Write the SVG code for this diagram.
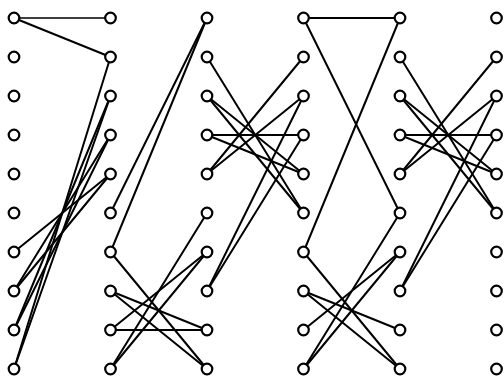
<svg xmlns="http://www.w3.org/2000/svg" width="504" height="381" viewBox="0 0 504 381">
<style>
.e{stroke:#000;stroke-width:2;fill:none;stroke-linecap:round}
.n circle{fill:#fff;stroke:#000;stroke-width:2.2}
</style>
<rect width="504" height="381" fill="#fff"/>
<g id="connectors" class="e">
<line x1="14" y1="18" x2="110.5" y2="18" stroke-width="1.5"/>
<line x1="14" y1="18" x2="110.5" y2="57"/>
<line x1="110.5" y1="57" x2="14" y2="369"/>
<line x1="110.5" y1="96" x2="14" y2="330"/>
<line x1="110.5" y1="96" x2="14" y2="369"/>
<line x1="110.5" y1="135" x2="14" y2="291"/>
<line x1="110.5" y1="135" x2="14" y2="330"/>
<line x1="110.5" y1="174" x2="14" y2="252"/>
<line x1="110.5" y1="174" x2="14" y2="291"/>
<line x1="207" y1="18" x2="110.5" y2="213"/>
<line x1="207" y1="18" x2="110.5" y2="252"/>
<line x1="110.5" y1="252" x2="207" y2="369"/>
<line x1="110.5" y1="291" x2="207" y2="330"/>
<line x1="110.5" y1="291" x2="207" y2="369"/>
<line x1="110.5" y1="330" x2="207" y2="330"/>
<line x1="110.5" y1="330" x2="207" y2="252"/>
<line x1="110.5" y1="369" x2="207" y2="252"/>
<line x1="110.5" y1="369" x2="207" y2="213"/>
<line x1="207" y1="57" x2="303.5" y2="213"/>
<line x1="207" y1="96" x2="303.5" y2="174"/>
<line x1="207" y1="96" x2="303.5" y2="213"/>
<line x1="207" y1="135" x2="303.5" y2="135"/>
<line x1="207" y1="135" x2="303.5" y2="174"/>
<line x1="207" y1="174" x2="303.5" y2="57"/>
<line x1="207" y1="174" x2="303.5" y2="96"/>
<line x1="207" y1="291" x2="303.5" y2="96"/>
<line x1="207" y1="291" x2="303.5" y2="135"/>
<line x1="303.5" y1="18" x2="400" y2="18"/>
<line x1="303.5" y1="18" x2="400" y2="213"/>
<line x1="400" y1="18" x2="303.5" y2="252"/>
<line x1="303.5" y1="252" x2="400" y2="369"/>
<line x1="303.5" y1="291" x2="400" y2="330"/>
<line x1="303.5" y1="291" x2="400" y2="369"/>
<line x1="303.5" y1="330" x2="400" y2="252"/>
<line x1="303.5" y1="369" x2="400" y2="252"/>
<line x1="303.5" y1="369" x2="400" y2="213"/>
<line x1="400" y1="57" x2="496.5" y2="213"/>
<line x1="400" y1="96" x2="496.5" y2="174"/>
<line x1="400" y1="96" x2="496.5" y2="213"/>
<line x1="400" y1="135" x2="496.5" y2="135"/>
<line x1="400" y1="135" x2="496.5" y2="174"/>
<line x1="400" y1="174" x2="496.5" y2="57"/>
<line x1="400" y1="174" x2="496.5" y2="96"/>
<line x1="400" y1="291" x2="496.5" y2="96"/>
<line x1="400" y1="291" x2="496.5" y2="135"/>
</g>
<g class="n">
<g id="n0_0"><circle cx="14" cy="18" r="5.3"/></g>
<g id="n0_1"><circle cx="14" cy="57" r="5.3"/></g>
<g id="n0_2"><circle cx="14" cy="96" r="5.3"/></g>
<g id="n0_3"><circle cx="14" cy="135" r="5.3"/></g>
<g id="n0_4"><circle cx="14" cy="174" r="5.3"/></g>
<g id="n0_5"><circle cx="14" cy="213" r="5.3"/></g>
<g id="n0_6"><circle cx="14" cy="252" r="5.3"/></g>
<g id="n0_7"><circle cx="14" cy="291" r="5.3"/></g>
<g id="n0_8"><circle cx="14" cy="330" r="5.3"/></g>
<g id="n0_9"><circle cx="14" cy="369" r="5.3"/></g>
<g id="n1_0"><circle cx="110.5" cy="18" r="5.3"/></g>
<g id="n1_1"><circle cx="110.5" cy="57" r="5.3"/></g>
<g id="n1_2"><circle cx="110.5" cy="96" r="5.3"/></g>
<g id="n1_3"><circle cx="110.5" cy="135" r="5.3"/></g>
<g id="n1_4"><circle cx="110.5" cy="174" r="5.3"/></g>
<g id="n1_5"><circle cx="110.5" cy="213" r="5.3"/></g>
<g id="n1_6"><circle cx="110.5" cy="252" r="5.3"/></g>
<g id="n1_7"><circle cx="110.5" cy="291" r="5.3"/></g>
<g id="n1_8"><circle cx="110.5" cy="330" r="5.3"/></g>
<g id="n1_9"><circle cx="110.5" cy="369" r="5.3"/></g>
<g id="n2_0"><circle cx="207" cy="18" r="5.3"/></g>
<g id="n2_1"><circle cx="207" cy="57" r="5.3"/></g>
<g id="n2_2"><circle cx="207" cy="96" r="5.3"/></g>
<g id="n2_3"><circle cx="207" cy="135" r="5.3"/></g>
<g id="n2_4"><circle cx="207" cy="174" r="5.3"/></g>
<g id="n2_5"><circle cx="207" cy="213" r="5.3"/></g>
<g id="n2_6"><circle cx="207" cy="252" r="5.3"/></g>
<g id="n2_7"><circle cx="207" cy="291" r="5.3"/></g>
<g id="n2_8"><circle cx="207" cy="330" r="5.3"/></g>
<g id="n2_9"><circle cx="207" cy="369" r="5.3"/></g>
<g id="n3_0"><circle cx="303.5" cy="18" r="5.3"/></g>
<g id="n3_1"><circle cx="303.5" cy="57" r="5.3"/></g>
<g id="n3_2"><circle cx="303.5" cy="96" r="5.3"/></g>
<g id="n3_3"><circle cx="303.5" cy="135" r="5.3"/></g>
<g id="n3_4"><circle cx="303.5" cy="174" r="5.3"/></g>
<g id="n3_5"><circle cx="303.5" cy="213" r="5.3"/></g>
<g id="n3_6"><circle cx="303.5" cy="252" r="5.3"/></g>
<g id="n3_7"><circle cx="303.5" cy="291" r="5.3"/></g>
<g id="n3_8"><circle cx="303.5" cy="330" r="5.3"/></g>
<g id="n3_9"><circle cx="303.5" cy="369" r="5.3"/></g>
<g id="n4_0"><circle cx="400" cy="18" r="5.3"/></g>
<g id="n4_1"><circle cx="400" cy="57" r="5.3"/></g>
<g id="n4_2"><circle cx="400" cy="96" r="5.3"/></g>
<g id="n4_3"><circle cx="400" cy="135" r="5.3"/></g>
<g id="n4_4"><circle cx="400" cy="174" r="5.3"/></g>
<g id="n4_5"><circle cx="400" cy="213" r="5.3"/></g>
<g id="n4_6"><circle cx="400" cy="252" r="5.3"/></g>
<g id="n4_7"><circle cx="400" cy="291" r="5.3"/></g>
<g id="n4_8"><circle cx="400" cy="330" r="5.3"/></g>
<g id="n4_9"><circle cx="400" cy="369" r="5.3"/></g>
<g id="n5_0"><circle cx="496.5" cy="18" r="5.3"/></g>
<g id="n5_1"><circle cx="496.5" cy="57" r="5.3"/></g>
<g id="n5_2"><circle cx="496.5" cy="96" r="5.3"/></g>
<g id="n5_3"><circle cx="496.5" cy="135" r="5.3"/></g>
<g id="n5_4"><circle cx="496.5" cy="174" r="5.3"/></g>
<g id="n5_5"><circle cx="496.5" cy="213" r="5.3"/></g>
<g id="n5_6"><circle cx="496.5" cy="252" r="5.3"/></g>
<g id="n5_7"><circle cx="496.5" cy="291" r="5.3"/></g>
<g id="n5_8"><circle cx="496.5" cy="330" r="5.3"/></g>
<g id="n5_9"><circle cx="496.5" cy="369" r="5.3"/></g>
</g>
</svg>
